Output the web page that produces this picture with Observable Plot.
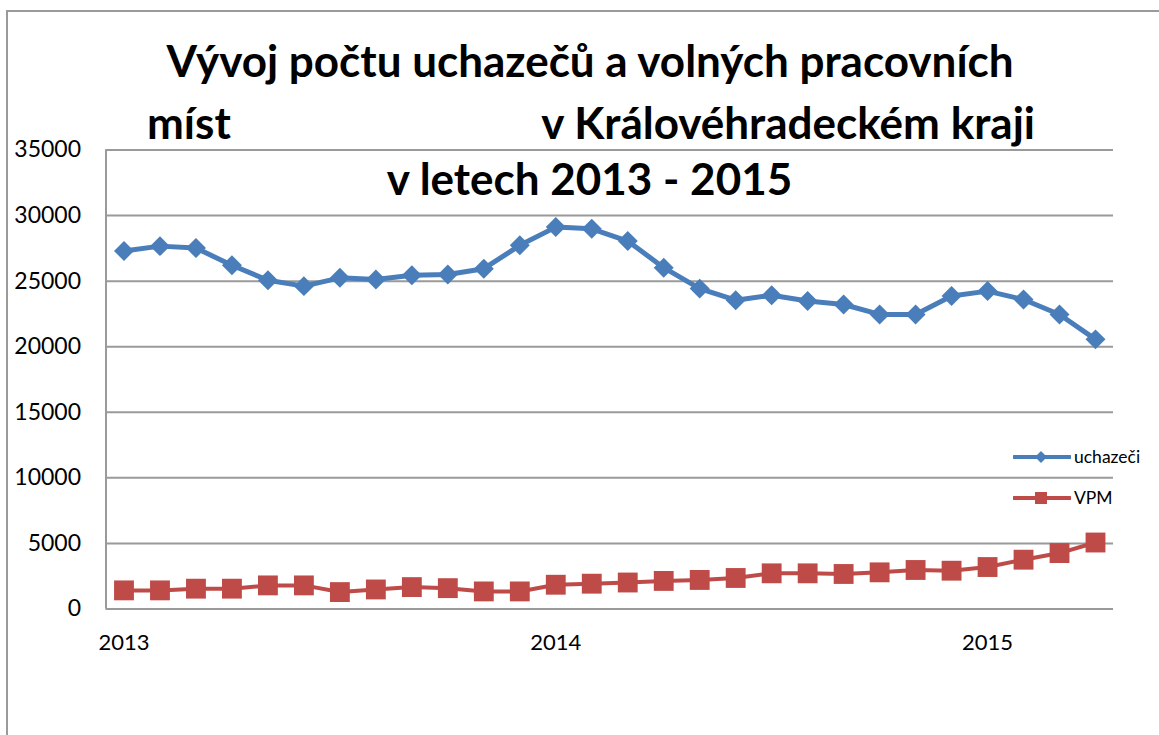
<!DOCTYPE html>
<html>
<head>
<meta charset="utf-8">
<script src="https://cdn.jsdelivr.net/npm/d3@7"></script>
<script src="https://cdn.jsdelivr.net/npm/@observablehq/plot@0.6"></script>
<style>
  html, body { margin: 0; padding: 0; background: #fff; }
  #wrap { position: relative; width: 1159px; height: 735px; overflow: hidden; font-family: Lato, "Open Sans", sans-serif; }
  #frame { position: absolute; left: 6px; top: 10px; right: -4px; bottom: -4px; border-top: 2px solid #9a9a9a; border-left: 2px solid #9a9a9a; }
  .title { position: absolute; font-weight: 700; font-size: 44px; color: #000; white-space: pre; line-height: 1; }
  .legend { position: absolute; left: 1013px; font-size: 17.5px; color: #000; display: flex; align-items: center; }
  .legend svg { display: block; margin-right: 3px; }
  #chart { position: absolute; left: 0; top: 0; }
</style>
</head>
<body>
<div id="wrap">
  <div id="frame"></div>
  <div id="chart"></div>
  <div class="title" id="t1" style="left:0; width:1180px; text-align:center; top:38px;">Vývoj počtu uchazečů a volných pracovních</div>
  <div class="title" id="t2" style="left:147px; width:888px; top:100px; display:flex; justify-content:space-between;"><span>míst</span><span>v Královéhradeckém kraji</span></div>
  <div class="title" id="t3" style="left:0; width:1179px; text-align:center; top:156px;">v letech 2013 - 2015</div>
  <div class="legend" style="top:446px;">
    <svg width="58" height="20"><line x1="1" y1="10" x2="57" y2="10" stroke="#4A7EBB" stroke-width="4" stroke-linecap="round"/><path d="M28 4 L34 10 L28 16 L22 10 Z" fill="#4A7EBB"/></svg><span>uchazeči</span>
  </div>
  <div class="legend" style="top:487px;">
    <svg width="58" height="20"><line x1="1" y1="10" x2="57" y2="10" stroke="#BE4B48" stroke-width="4" stroke-linecap="round"/><rect x="22" y="4" width="12" height="12" fill="#BE4B48"/></svg><span>VPM</span>
  </div>
</div>
<script>
const months = ["2013-01","2013-02","2013-03","2013-04","2013-05","2013-06","2013-07","2013-08","2013-09","2013-10","2013-11","2013-12",
                "2014-01","2014-02","2014-03","2014-04","2014-05","2014-06","2014-07","2014-08","2014-09","2014-10","2014-11","2014-12",
                "2015-01","2015-02","2015-03","2015-04"];
const uchazeci = [27300, 27670, 27520, 26210, 25070, 24620, 25250, 25120, 25450, 25500, 25950, 27730,
                  29120, 28990, 28060, 26030, 24430, 23550, 23920, 23480, 23220, 22460, 22460, 23860,
                  24240, 23600, 22460, 20560];
const vpm = [1420, 1420, 1550, 1550, 1800, 1800, 1290, 1490, 1670, 1590, 1340, 1340,
             1850, 1930, 2020, 2140, 2215, 2365, 2720, 2720, 2670, 2795, 2975, 2920,
             3200, 3760, 4265, 5070];
const yTicks = [0, 5000, 10000, 15000, 20000, 25000, 30000, 35000];
const yearTicks = months.map((m, i) => m.endsWith("-01") ? i : null).filter(i => i !== null);

const blue = "#4A7EBB", red = "#BE4B48";
const dataU = months.map((m, i) => ({i, v: uchazeci[i]}));
const dataV = months.map((m, i) => ({i, v: vpm[i]}));

const chart = Plot.plot({
  width: 1159,
  height: 735,
  marginLeft: 105.5,
  marginRight: 46,
  marginTop: 149.5,
  marginBottom: 126.5,
  style: {fontFamily: "Lato, 'Open Sans', sans-serif", fontSize: "23px", background: "transparent", color: "#000"},
  x: {type: "linear", domain: [-0.5, months.length - 0.5]},
  y: {domain: [0, 35000]},
  marks: [
    Plot.ruleY(yTicks, {stroke: "#9a9a9a", strokeWidth: 2}),
    Plot.ruleX([-0.5], {y1: 0, y2: 35000, stroke: "#9a9a9a", strokeWidth: 2}),
    Plot.axisY({ticks: yTicks, tickSize: 0, tickPadding: 25, tickFormat: d => String(d), label: null, fontSize: 23}),
    Plot.axisX({ticks: yearTicks, tickSize: 0, tickPadding: 25, tickFormat: i => months[i].slice(0, 4), label: null, fontSize: 22}),
    Plot.line(dataU, {x: "i", y: "v", stroke: blue, strokeWidth: 5, strokeLinejoin: "round"}),
    Plot.dot(dataU, {x: "i", y: "v", symbol: "diamond2", r: 9, fill: blue, stroke: "none"}),
    Plot.line(dataV, {x: "i", y: "v", stroke: red, strokeWidth: 4, strokeLinejoin: "round"}),
    Plot.dot(dataV, {x: "i", y: "v", symbol: "square", r: 11.2, fill: red, stroke: "none"})
  ]
});
document.getElementById("chart").appendChild(chart);
</script>
</body>
</html>
